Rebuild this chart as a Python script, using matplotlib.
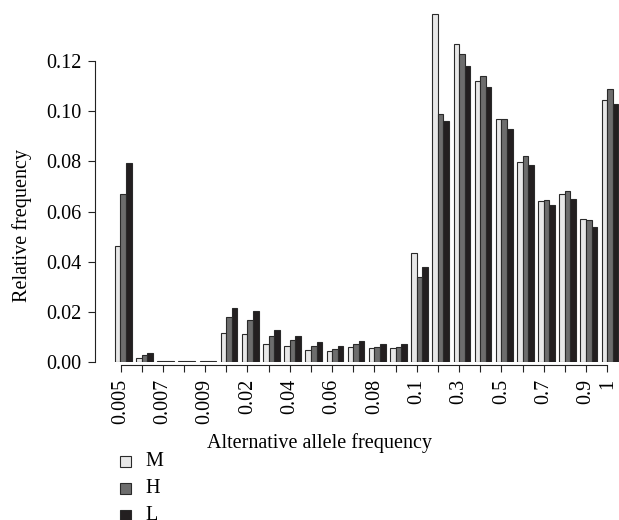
import matplotlib
matplotlib.use("Agg")
import matplotlib.pyplot as plt
from matplotlib.patches import Rectangle
import numpy as np

# Alternative allele frequency bins
categories = ["0.005", "0.006", "0.007", "0.008", "0.009", "0.01",
              "0.02", "0.03", "0.04", "0.05", "0.06", "0.07", "0.08", "0.09",
              "0.1", "0.2", "0.3", "0.4", "0.5", "0.6", "0.7", "0.8", "0.9", "1"]

# Relative frequencies per group
M = [0.0461, 0.0017, 0.0004, 0.0004, 0.0004, 0.0117,
     0.0113, 0.0073, 0.0063, 0.0049, 0.0043, 0.0061, 0.0056, 0.0057,
     0.0436, 0.1386, 0.1269, 0.1120, 0.0970, 0.0799, 0.0640, 0.0669, 0.0570, 0.1046]
H = [0.0671, 0.0027, 0.0004, 0.0004, 0.0004, 0.0178,
     0.0166, 0.0102, 0.0087, 0.0065, 0.0051, 0.0071, 0.0061, 0.0061,
     0.0340, 0.0989, 0.1227, 0.1139, 0.0970, 0.0821, 0.0645, 0.0682, 0.0568, 0.1090]
L = [0.0793, 0.0035, 0.0004, 0.0004, 0.0004, 0.0217,
     0.0203, 0.0128, 0.0105, 0.0081, 0.0063, 0.0085, 0.0073, 0.0072,
     0.0380, 0.0961, 0.1180, 0.1098, 0.0928, 0.0787, 0.0625, 0.0650, 0.0538, 0.1027]

series_names = ["M", "H", "L"]
series_colors = ["#e8e8e8", "#6d6d6d", "#231f20"]
edge = "#2a2a2a"

y_ticks = [0.00, 0.02, 0.04, 0.06, 0.08, 0.10, 0.12]

plt.rcParams["font.family"] = ["Liberation Serif", "DejaVu Serif"]
FS = 14.5

W, Hpx = 619, 520
fig = plt.figure(figsize=(W / 100, Hpx / 100), dpi=100)

# axes box in pixels (from top-left): data x from 112.7 to 619, y 0 .. 362
left_px, right_px, top_px, base_px = 112.7, 619.0, 0.0, 362.0
ax = fig.add_axes([left_px / W, (Hpx - base_px) / Hpx,
                   (right_px - left_px) / W, (base_px - top_px) / Hpx])

x = np.arange(len(categories))
bw = 0.263
for k, (vals, col) in enumerate(zip([M, H, L], series_colors)):
    ax.bar(x + (k - 1) * bw, vals, width=bw, color=col, edgecolor=edge,
           linewidth=0.8, label=series_names[k])

pitch = 21.16
ax.set_xlim(-0.5, (right_px - 123.3) / pitch)
ax.set_ylim(0, base_px / 2508.3)

for s in ["top", "right"]:
    ax.spines[s].set_visible(False)
ax.spines["left"].set_position(("outward", 12.7))
ax.spines["left"].set_bounds(0, 0.12)
ax.spines["bottom"].set_position(("outward", 2.2))

tick_pos = x - 0.13
ax.spines["bottom"].set_bounds(tick_pos[0], tick_pos[-1])
ax.set_xticks(tick_pos)
ax.set_xticklabels([c if (i % 2 == 0 or i == len(categories) - 1) else ""
                    for i, c in enumerate(categories)], rotation=90,
                   fontsize=FS)
ax.set_yticks(y_ticks)
ax.set_yticklabels([f"{v:.2f}" for v in y_ticks], fontsize=FS)
ax.tick_params(axis="both", length=4.8, width=0.8, color="#222222")
ax.tick_params(axis="y", pad=5)
ax.tick_params(axis="x", pad=5)
for s in ["left", "bottom"]:
    ax.spines[s].set_linewidth(0.8)
    ax.spines[s].set_color("#222222")

fig.text(21.7 / W, 1 - 225 / Hpx, "Relative frequency", rotation=90,
         ha="center", va="center", fontsize=FS)
fig.text(319 / W, 1 - 443 / Hpx, "Alternative allele frequency",
         ha="center", va="center", fontsize=FS)

# legend
sq = 11.0
for i, (name, col) in enumerate(zip(series_names, series_colors)):
    cy = 461.7 + i * 26.7
    fig.add_artist(Rectangle(((125 - sq / 2) / W, 1 - (cy + sq / 2) / Hpx),
                             sq / W, sq / Hpx, transform=fig.transFigure,
                             facecolor=col, edgecolor=edge, linewidth=0.8))
    fig.text(145 / W, 1 - cy / Hpx, name, ha="left", va="center", fontsize=FS)

fig.savefig("out.png", dpi=100)
